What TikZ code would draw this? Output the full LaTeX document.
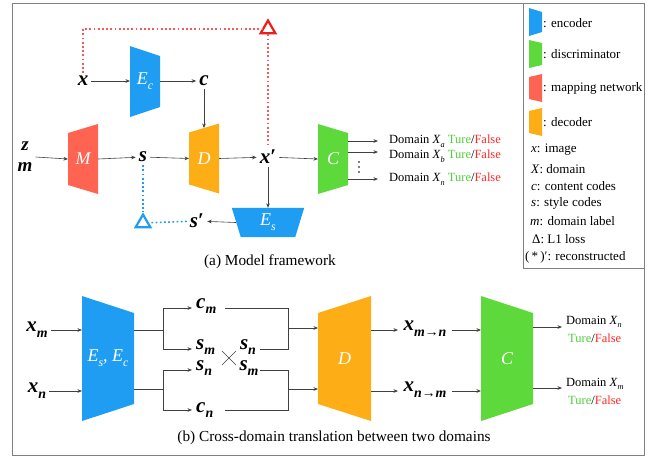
\documentclass[tikz,border=0pt]{standalone}
\usepackage{fontspec}
\setmainfont{Liberation Serif}
\usepackage{graphicx}
\usetikzlibrary{arrows.meta,shapes.geometric}
\definecolor{encB}{HTML}{1E9DF2}
\definecolor{discG}{HTML}{5DD93B}
\definecolor{mapR}{HTML}{FF6352}
\definecolor{decO}{HTML}{FDAE17}
\definecolor{tgreen}{HTML}{4FCF3A}
\definecolor{ffalse}{HTML}{FF2A2A}
\definecolor{rdotc}{HTML}{F55A5A}
\definecolor{rtri}{HTML}{EE1C1C}
\definecolor{framec}{HTML}{808080}
\newcommand\V[1]{\textit{#1}}
\newcommand\low[1]{\raisebox{-0.28em}{\scalebox{0.66}{#1}}}
% encoder-like: tall on left
\newcommand\trapE[8]{%
  \node[inner sep=0pt,outer sep=0pt,minimum width=#4pt,minimum height=#5pt] (#1) at (#2,#3) {};
  \fill[#7] (#1.north west) -- ([yshift=-#6pt]#1.north east) -- ([yshift=#6pt]#1.south east) -- (#1.south west) -- cycle;
  \node[lab] (#1l) at (#1) {#8};}
% decoder-like: tall on right
\newcommand\trapD[8]{%
  \node[inner sep=0pt,outer sep=0pt,minimum width=#4pt,minimum height=#5pt] (#1) at (#2,#3) {};
  \fill[#7] (#1.north east) -- ([yshift=-#6pt]#1.north west) -- ([yshift=#6pt]#1.south west) -- (#1.south east) -- cycle;
  \node[lab] (#1l) at (#1) {#8};}
\tikzset{
  arr/.style={-{Stealth[length=4.5pt,width=3.6pt]},line width=0.6pt,draw=black!75},
  ln/.style={line width=0.6pt,draw=black!75},
  mv/.style={inner sep=3pt,font=\fontsize{21}{23}\selectfont\bfseries},
  lab/.style={text=white,inner sep=0pt,font=\fontsize{18}{20}\selectfont\itshape},
  dlab/.style={inner sep=2pt,font=\fontsize{12.5}{14}\selectfont},
  leg/.style={inner sep=2pt,anchor=west,font=\fontsize{13}{15}\selectfont},
  captxt/.style={inner sep=0pt,font=\fontsize{15.3}{17}\selectfont},
  rdot/.style={draw=rdotc,line width=1.5pt,dash pattern=on 1.8pt off 2.4pt},
  bdot/.style={draw=encB,line width=1.5pt,dash pattern=on 1.8pt off 2.4pt},
  tri/.style={regular polygon,regular polygon sides=3,draw,line width=2.2pt,minimum size=17pt,inner sep=0pt},
  framel/.style={draw=framec,line width=1pt}
}
\begin{document}
\begin{tikzpicture}[x=1pt,y=-1pt]
\useasboundingbox (0,0) rectangle (659,459);
\draw[framel] (12,3) rectangle (644,455);
\draw[framel] (523,3) rectangle (644,268);

% ---------- (a) ----------
\node[mv] (x) at (83,81) {\V{x}};
\trapE{Ec}{145}{81.5}{30}{71}{10}{encB}{E\low{c}}
\node[mv] (c) at (204,81) {\V{c}};
\node[mv,align=center,font=\fontsize{19}{21}\selectfont\bfseries] (zm) at (25,157) {\V{z}\\\V{m}};
\trapD{M}{83}{159}{30}{70}{9}{mapR}{M}
\node[mv] (s) at (143,157) {\V{s}};
\trapD{D}{204}{158.5}{30}{70}{9}{decO}{D}
\node[mv] (xp) at (268,157) {\V{x}′};
\trapE{C}{333}{159}{30}{70}{9}{discG}{C}

\draw[arr] (x) -- (Ec.west |- x);
\draw[arr] (Ec.east |- c) -- (c);
\draw[arr] (c) -- ([yshift=-4.5pt]D.north);
\draw[arr] (zm.east) -- (M.west);
\draw[arr] (M.east) -- (s);
\draw[arr] (s) -- (D.west);
\draw[arr] (D.east) -- (xp);
\draw[arr] (xp) -- (C.west);

\node[dlab,anchor=west] (oa) at (387,141) {Domain \V{X}\low{\V{a}} \textcolor{tgreen}{Ture}/\textcolor{ffalse}{False}};
\node[dlab,anchor=west] (ob) at (387,156) {Domain \V{X}\low{\V{b}} \textcolor{tgreen}{Ture}/\textcolor{ffalse}{False}};
\node[dlab,anchor=west] (on) at (387,179) {Domain \V{X}\low{\V{n}} \textcolor{tgreen}{Ture}/\textcolor{ffalse}{False}};
\draw[arr] (C.east |- 0,141) -- (378,141);
\draw[arr] (C.east |- 0,152) -- (378,152);
\draw[arr] (C.east |- 0,179) -- (378,179);
\fill (359,162) circle (0.8);
\fill (359,167) circle (0.8);
\fill (359,172) circle (0.8);

% E_s
\node[inner sep=0pt,minimum width=72pt,minimum height=29pt] (Es) at (268,222.5) {};
\fill[encB] (Es.north west) -- (Es.north east) -- ([xshift=-9pt]Es.south east) -- ([xshift=9pt]Es.south west) -- cycle;
\node[lab] (Esl) at (Es) {E\low{s}};
\draw[arr] (xp) -- (Es.north);
\node[mv] (sp) at (197,221) {\V{s}′};
\draw[arr] ([xshift=4pt]Es.west) -- (sp);

\node[tri,draw=encB] (tb) at (143,223) {};
\draw[bdot] (sp) -- (tb);
\draw[bdot] (s) -- (tb);

\node[tri,draw=rtri] (tr) at (268,29) {};
\draw[rdot] (x.north) -- (x.north |- tr) -- (tr);
\draw[rdot] (tr) -- (xp);

\node[captxt] (capA) at (270,262) {(a) Model framework};

% ---------- legend ----------
\trapE{L1}{535.5}{22}{13}{28}{4}{encB}{}
\trapE{L2}{535.5}{54}{13}{28}{3}{discG}{}
\trapD{L3}{535.5}{88}{13}{28}{3}{mapR}{}
\trapD{L4}{535.5}{122}{13}{28}{3}{decO}{}
\node[leg] (t1) at (541,23) {: encoder};
\node[leg] (t2) at (541,54) {: discriminator};
\node[leg] (t3) at (541,88) {: mapping network};
\node[leg] (t4) at (541,122) {: decoder};
\node[leg] (t5) at (529,150) {\V{x}: image};
\node[leg] (t6) at (529,169) {\V{X}: domain};
\node[leg] (t7) at (529,186) {\V{c}: content codes};
\node[leg] (t8) at (529,203) {\V{s}: style codes};
\node[leg] (t9) at (528,221) {\V{m}: domain label};
\node[leg] (t10) at (530,239) {Δ: L1 loss};
\node[leg] (t11) at (523,257) {(\,*\,)′: reconstructed};

% ---------- (b) ----------
\node[mv] (xm) at (37,330) {\V{x}\low{\V{m}}};
\node[mv] (xn) at (37,391) {\V{x}\low{\V{n}}};
\trapE{EE}{108}{358.5}{52}{125}{17}{encB}{E\low{s}, E\low{c}}
\draw[arr] (xm) -- (EE.west |- xm);
\draw[arr] (xn) -- (EE.west |- xn);

\coordinate (bu) at (163,330);
\coordinate (bl) at (163,389);
\node[mv,anchor=west] (cm) at (193,306) {\V{c}\low{\V{m}}};
\node[mv,anchor=west] (smL) at (193,347) {\V{s}\low{\V{m}}};
\node[mv,anchor=west] (snL) at (193,368) {\V{s}\low{\V{n}}};
\node[mv,anchor=west] (cn) at (193,410) {\V{c}\low{\V{n}}};
\node[mv] (snR) at (248,347) {\V{s}\low{\V{n}}};
\node[mv] (smR) at (249,368) {\V{s}\low{\V{m}}};
\draw[ln] (EE.east |- bu) -- (bu);
\draw[ln] (EE.east |- bl) -- (bl);
\draw[ln] (bu |- 0,308) -- (bu |- 0,349);
\draw[ln] (bl |- 0,370) -- (bl |- 0,410);
\draw[arr] (bu |- 0,308) -- (192,308);
\draw[arr] (bu |- 0,349) -- (192,349);
\draw[arr] (bl |- 0,370) -- (192,370);
\draw[arr] (bl |- 0,410) -- (192,410);
\draw[ln] (222,351) -- (236,365);
\draw[ln] (222,365) -- (236,351);

\coordinate (ju) at (288,328);
\coordinate (jl) at (288,389);
\draw[ln] (225,308) -- (ju |- 0,308) -- (ju |- 0,349) -- (260,349);
\draw[ln] (260,370) -- (jl |- 0,370) -- (jl |- 0,410) -- (225,410);
\trapD{D2}{344.5}{358.5}{53}{125}{17}{decO}{D}
\draw[arr] (ju) -- (D2.west |- ju);
\draw[arr] (jl) -- (D2.west |- jl);

\node[mv] (xmn) at (425,329) {\V{x}\low{\V{m}→\V{n}}};
\node[mv] (xnm) at (425,390) {\V{x}\low{\V{n}→\V{m}}};
\trapE{C2}{507}{358.5}{52}{125}{17}{discG}{C}
\draw[arr] (D2.east |- 0,330) -- (398,330);
\draw[arr] (D2.east |- 0,391) -- (398,391);
\draw[arr] (452,330) -- (C2.west |- 0,330);
\draw[arr] (452,391) -- (C2.west |- 0,391);

\node[dlab,anchor=west] (dn) at (564,322) {Domain \V{X}\low{\V{n}}};
\node[dlab,anchor=west] (tn) at (566,338) {\textcolor{tgreen}{Ture}/\textcolor{ffalse}{False}};
\node[dlab,anchor=west] (dm) at (564,384) {Domain \V{X}\low{\V{m}}};
\node[dlab,anchor=west] (tm) at (566,400) {\textcolor{tgreen}{Ture}/\textcolor{ffalse}{False}};
\draw[arr] (C2.east |- 0,327) -- (562,327);
\draw[arr] (C2.east |- 0,388) -- (562,388);

\node[captxt] (capB) at (334,438) {(b) Cross-domain translation between two domains};
\end{tikzpicture}
\end{document}
